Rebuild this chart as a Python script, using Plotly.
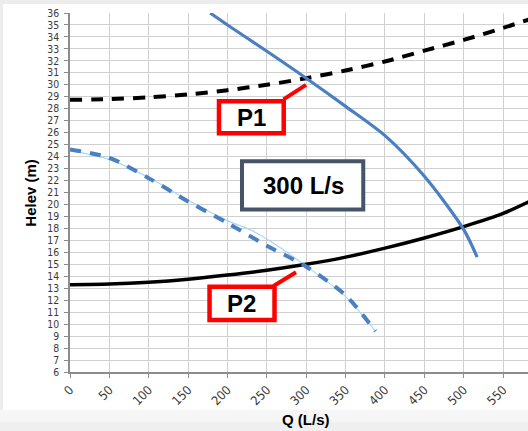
import plotly.graph_objects as go

# Flow (L/s) and head (m) readings for each curve
q_sys_high = [0, 50, 100, 150, 200, 250, 300, 350, 400, 450, 500, 550, 585]
h_sys_high = [28.75, 28.8, 28.95, 29.2, 29.55, 30.0, 30.55, 31.2, 31.95, 32.85, 33.75, 34.75, 35.5]

q_sys_low = [0, 50, 100, 150, 200, 250, 300, 350, 400, 450, 500, 550, 585]
h_sys_low = [13.3, 13.35, 13.5, 13.75, 14.1, 14.5, 15.0, 15.6, 16.35, 17.2, 18.15, 19.25, 20.3]

q_pump_p1 = [178, 200, 250, 300, 350, 400, 450, 500, 517]
h_pump_p1 = [36.0, 35.0, 32.8, 30.55, 28.2, 25.75, 22.35, 17.9, 15.6]

q_pump_p2 = [0, 50, 100, 150, 200, 250, 300, 350, 388]
h_pump_p2 = [24.6, 23.9, 22.2, 20.25, 18.45, 16.55, 14.8, 12.4, 9.4]

# Thin fitted trace running under the P2 pump curve
q_fit_p2 = [0, 50, 100, 150, 200, 230, 255, 300, 350, 388]
h_fit_p2 = [24.5, 23.75, 22.25, 20.35, 18.65, 17.85, 16.9, 14.85, 12.3, 9.4]

x_ticks = [0, 50, 100, 150, 200, 250, 300, 350, 400, 450, 500, 550, 600]
y_ticks = list(range(6, 37))

BLUE = "#4a7fc1"
LIGHT_BLUE = "#a6d8f5"
RED = "#ff0000"
SLATE = "#46546a"
TICK_FONT = "Liberation Sans Narrow, DejaVu Sans Condensed, Arial Narrow, sans-serif"
LABEL_FONT = "Liberation Sans, Arial, sans-serif"

fig = go.Figure()

fig.add_trace(go.Scatter(x=q_fit_p2, y=h_fit_p2, mode="lines",
                         line=dict(color=LIGHT_BLUE, width=1.2, shape="spline", smoothing=0.8),
                         hoverinfo="skip", showlegend=False))
fig.add_trace(go.Scatter(x=q_sys_high, y=h_sys_high, mode="lines",
                         line=dict(color="black", width=4, dash="12px,9px", shape="spline", smoothing=0.8),
                         showlegend=False))
fig.add_trace(go.Scatter(x=q_sys_low, y=h_sys_low, mode="lines",
                         line=dict(color="black", width=3.5, shape="spline", smoothing=0.8),
                         showlegend=False))
fig.add_trace(go.Scatter(x=q_pump_p1, y=h_pump_p1, mode="lines",
                         line=dict(color=BLUE, width=3.2, shape="spline", smoothing=0.8),
                         showlegend=False))
fig.add_trace(go.Scatter(x=q_pump_p2, y=h_pump_p2, mode="lines",
                         line=dict(color=BLUE, width=4, dash="11px,9px", shape="spline", smoothing=0.8),
                         showlegend=False))

shapes = [
    # outer frame tints
    dict(type="rect", xref="paper", yref="paper", x0=-0.16, x1=1.01, y0=1.025, y1=1.04,
         fillcolor="#ececec", line=dict(width=0), layer="below"),
    dict(type="rect", xref="paper", yref="paper", x0=-0.16, x1=-0.1465, y0=-0.17, y1=1.04,
         fillcolor="#ececec", line=dict(width=0), layer="below"),
    dict(type="rect", xref="paper", yref="paper", x0=-0.16, x1=1.01, y0=-0.17, y1=-0.105,
         fillcolor="#f6f6f6", line=dict(width=0), layer="below"),
    dict(type="rect", xref="paper", yref="paper", x0=-0.16, x1=1.01, y0=-0.17, y1=-0.14,
         fillcolor="#efefef", line=dict(width=0), layer="below"),
    # callout boxes and leaders
    dict(type="rect", x0=218.4, x1=372.4, y0=19.58, y1=23.62,
         fillcolor="white", line=dict(color=SLATE, width=4)),
    dict(type="line", x0=271.1, y0=28.78, x1=299.7, y1=29.99, line=dict(color=RED, width=4)),
    dict(type="rect", x0=189.2, x1=271.4, y0=25.95, y1=28.63,
         fillcolor="white", line=dict(color=RED, width=4.5)),
    dict(type="line", x0=258.4, y0=13.18, x1=287.0, y1=14.33, line=dict(color=RED, width=4)),
    dict(type="rect", x0=177.2, x1=259.7, y0=10.34, y1=13.12,
         fillcolor="white", line=dict(color=RED, width=4.5)),
]

annotations = [
    dict(x=295.9, y=21.56, text="<b>300 L/s</b>", showarrow=False,
         font=dict(family=LABEL_FONT, size=24, color="black")),
    dict(x=230.2, y=27.3, text="<b>P1</b>", showarrow=False,
         font=dict(family=LABEL_FONT, size=24, color="black")),
    dict(x=218.4, y=11.73, text="<b>P2</b>", showarrow=False,
         font=dict(family=LABEL_FONT, size=24, color="black")),
    dict(x=300, y=-0.133, xref="x", yref="paper", xanchor="center", yanchor="middle",
         text="<b>Q (L/s)</b>", showarrow=False,
         font=dict(family=LABEL_FONT, size=15, color="black")),
    dict(x=-0.087, y=0.5, xref="paper", yref="paper", xanchor="center", yanchor="middle",
         text="<b>Helev (m)</b>", textangle=-90,
         showarrow=False, font=dict(family=LABEL_FONT, size=15, color="black")),
    dict(x=600, y=6, xref="x", yref="y", text="600", textangle=-45, showarrow=False,
         xanchor="right", yanchor="top", yshift=-6, xshift=4,
         font=dict(family=TICK_FONT, size=12.5, color="#3a3a3a")),
]

fig.update_layout(
    width=528, height=431,
    margin=dict(l=70, r=0, t=13, b=58.5),
    paper_bgcolor="white", plot_bgcolor="white",
    shapes=shapes, annotations=annotations,
    xaxis=dict(range=[0, 581.6], tickvals=x_ticks, tickangle=-45,
               showgrid=True, gridcolor="#d0d0d0", gridwidth=1,
               showline=True, linecolor="#8c8c8c", linewidth=1.5,
               ticks="outside", ticklen=4, tickcolor="#8c8c8c",
               tickfont=dict(family=TICK_FONT, size=12.5, color="#3a3a3a"),
               zeroline=False),
    yaxis=dict(range=[6, 36], tickvals=y_ticks,
               showgrid=True, gridcolor="#d0d0d0", gridwidth=1,
               showline=True, linecolor="#8c8c8c", linewidth=1.5,
               ticks="outside", ticklen=4, tickcolor="#8c8c8c",
               tickfont=dict(family=TICK_FONT, size=10.4, color="#3a3a3a"),
               ticklabelstandoff=3, zeroline=False),
)

fig.write_html("out.html")
